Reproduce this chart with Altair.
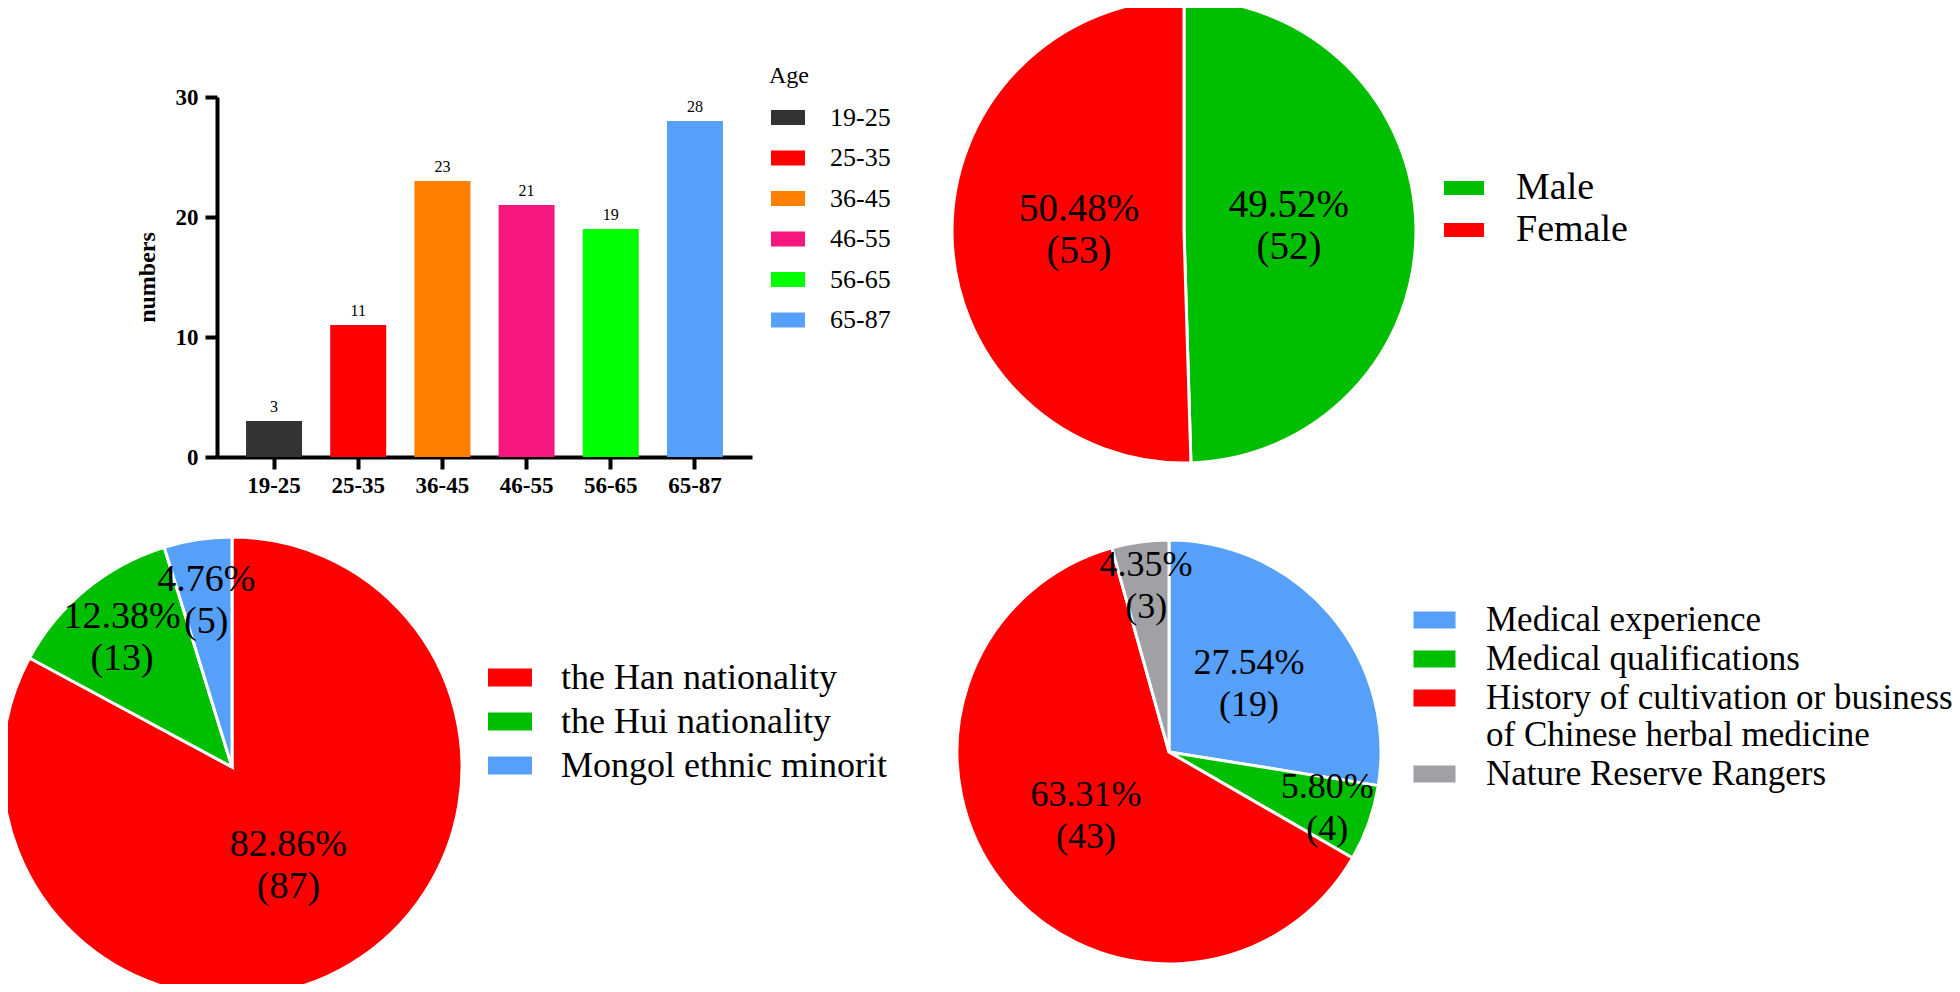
import altair as alt
import pandas as pd

FONT = "Liberation Serif"

# ---------------- data ----------------
age_groups = ["19-25", "25-35", "36-45", "46-55", "56-65", "65-87"]
age_counts = [3, 11, 23, 21, 19, 28]
age_colors = ["#333333", "#FF0000", "#FF8000", "#F5177E", "#00FF00", "#56A0FA"]

sex_labels = ["Male", "Female"]
sex_counts = [52, 53]
sex_pcts = [49.52, 50.48]
sex_colors = ["#00BE00", "#FF0000"]

eth_labels = ["the Han nationality", "the Hui nationality", "Mongol ethnic minorit"]
eth_counts = [87, 13, 5]
eth_pcts = [82.86, 12.38, 4.76]
eth_colors = ["#FF0000", "#00BE00", "#56A0FA"]

qual_labels = ["Medical experience", "Medical qualifications",
               "History of cultivation or business of Chinese herbal medicine",
               "Nature Reserve Rangers"]
qual_counts = [19, 4, 43, 3]
qual_pcts = [27.54, 5.80, 63.31, 4.35]
qual_colors = ["#56A0FA", "#00BE00", "#FF0000", "#A0A0A5"]


def rect_path(w, h):
    # symbol drawn with r = sqrt(size)/2 ; size = (w/2)^2 -> r = w/4
    hh = 2.0 * h / w
    return f"M-2,-{hh:.3f}H2V{hh:.3f}H-2Z", (w / 2.0) ** 2


# ---------------- bar chart ----------------
bar_df = pd.DataFrame({"age": age_groups, "n": age_counts})
age_path, age_size = rect_path(34, 15)

xenc = alt.X("age:N", sort=age_groups,
             scale=alt.Scale(range=[209, 744], paddingInner=0.335, paddingOuter=0.345),
             axis=alt.Axis(title=None, orient="bottom", offset=-527, labelAngle=0,
                           labelFont=FONT, labelFontWeight="bold", labelFontSize=23,
                           labelColor="black", domainColor="black", domainWidth=4,
                           tickColor="black", tickWidth=4, tickSize=12, labelPadding=5,
                           grid=False))
yenc = alt.Y("n:Q", scale=alt.Scale(domain=[0, 30], range=[449, 89], nice=False),
             axis=alt.Axis(title="numbers", orient="left", offset=-209, values=[0, 10, 20, 30],
                           labelFont=FONT, labelFontWeight="bold", labelFontSize=23,
                           labelColor="black", domainColor="black", domainWidth=4,
                           tickColor="black", tickWidth=4, tickSize=12, labelPadding=7,
                           grid=False, titleFont=FONT, titleFontWeight="bold",
                           titleFontSize=24, titleColor="black", titleX=-70, titleY=269,
                           titleAngle=270, titleAlign="center", titleBaseline="middle"))

bars = alt.Chart(bar_df).mark_bar().encode(
    x=xenc, y=yenc,
    color=alt.Color("age:N", scale=alt.Scale(domain=age_groups, range=age_colors),
                    legend=alt.Legend(title="Age", orient="none", legendX=761, legendY=56,
                                      symbolType=age_path, symbolSize=age_size,
                                      symbolOffset=6, symbolStrokeWidth=0,
                                      labelOffset=29, rowPadding=14.5, padding=0,
                                      labelFont=FONT, labelFontSize=26, labelColor="black",
                                      titleFont=FONT, titleFontSize=24, titleFontWeight="normal",
                                      titleColor="black", titlePadding=16.5, labelLimit=600)))
bar_text = alt.Chart(bar_df).mark_text(font=FONT, fontSize=16, color="black", dy=-14).encode(
    x=alt.X("age:N", sort=age_groups), y="n:Q", text="n:Q")
bar_layer = alt.layer(bars, bar_text)


# ---------------- pies ----------------
def pie(labels, counts, pcts, colors, cx, cy, r, r_in, r_out, fsize, dy, legend):
    df = pd.DataFrame({"cat": labels, "n": counts, "pct": pcts, "k": list(range(len(labels)))})
    base = alt.Chart(df)
    arc = base.mark_arc(radius=r, stroke="white", strokeWidth=3).encode(
        theta=alt.Theta("n:Q", stack=True),
        order=alt.Order("k:Q"),
        color=alt.Color("cat:N", scale=alt.Scale(domain=labels, range=colors), legend=legend),
        x=alt.value(cx), y=alt.value(cy))
    txt = base.transform_joinaggregate(total="sum(n)").transform_window(
        cum="sum(n)", sort=[alt.SortField("k")], frame=[None, 0]
    ).transform_calculate(
        mid="datum.cum - datum.n / 2",
        share="datum.n / datum.total",
        lab="format(datum.pct, '.2f') + '%\\n(' + datum.n + ')'",
        lr=f"datum.share < 0.15 ? {r_out} : {r_in}"
    ).mark_text(font=FONT, fontSize=fsize, lineBreak="\n", lineHeight=42, dy=dy,
                color="black", baseline="middle", align="center").encode(
        theta=alt.Theta("mid:Q", stack=None),
        radius=alt.Radius("lr:Q", scale=None),
        text="lab:N",
        x=alt.value(cx), y=alt.value(cy))
    return alt.layer(arc, txt)


def leg(w, h, x, y, fs, row_pad, label_off, expr=None):
    p, s = rect_path(w, h)
    kw = dict(title=None, orient="none", legendX=x, legendY=y, symbolType=p, symbolSize=s,
              symbolStrokeWidth=0, labelOffset=label_off, rowPadding=row_pad, padding=0,
              labelFont=FONT, labelFontSize=fs, labelColor="black", labelLimit=900)
    if expr:
        kw["labelExpr"] = expr
    return alt.Legend(**kw)


split_expr = ("indexof(datum.label, ' of Chinese') > 0 ? "
              "[substring(datum.label, 0, indexof(datum.label, ' of Chinese')), "
              "substring(datum.label, indexof(datum.label, ' of Chinese') + 1)] : datum.label")

sex_pie = pie(sex_labels, sex_counts, sex_pcts, sex_colors, 1176, 223, 232, 105, 170, 39, -24,
              leg(40, 14, 1437, 161, 38, 4, 33))
eth_pie = pie(eth_labels, eth_counts, eth_pcts, eth_colors, 224, 759, 230, 110, 173, 38, -16,
              leg(44, 18, 484, 651.5, 36, 8, 33))
qual_pie = pie(qual_labels, qual_counts, qual_pcts, qual_colors, 1161, 744, 212, 105, 168, 36, -21,
               leg(42, 17, 1409, 594.5, 35, 3, 34, split_expr))

chart = alt.layer(bar_layer, sex_pie, eth_pie, qual_pie).resolve_scale(
    color="independent", theta="independent"
).properties(
    width=1944, height=976, padding=0,
    autosize=alt.AutoSizeParams(type="none"),
    background="white"
).configure_view(stroke=None)

chart.save("out.html", embed_options={"renderer": "svg", "actions": False})
